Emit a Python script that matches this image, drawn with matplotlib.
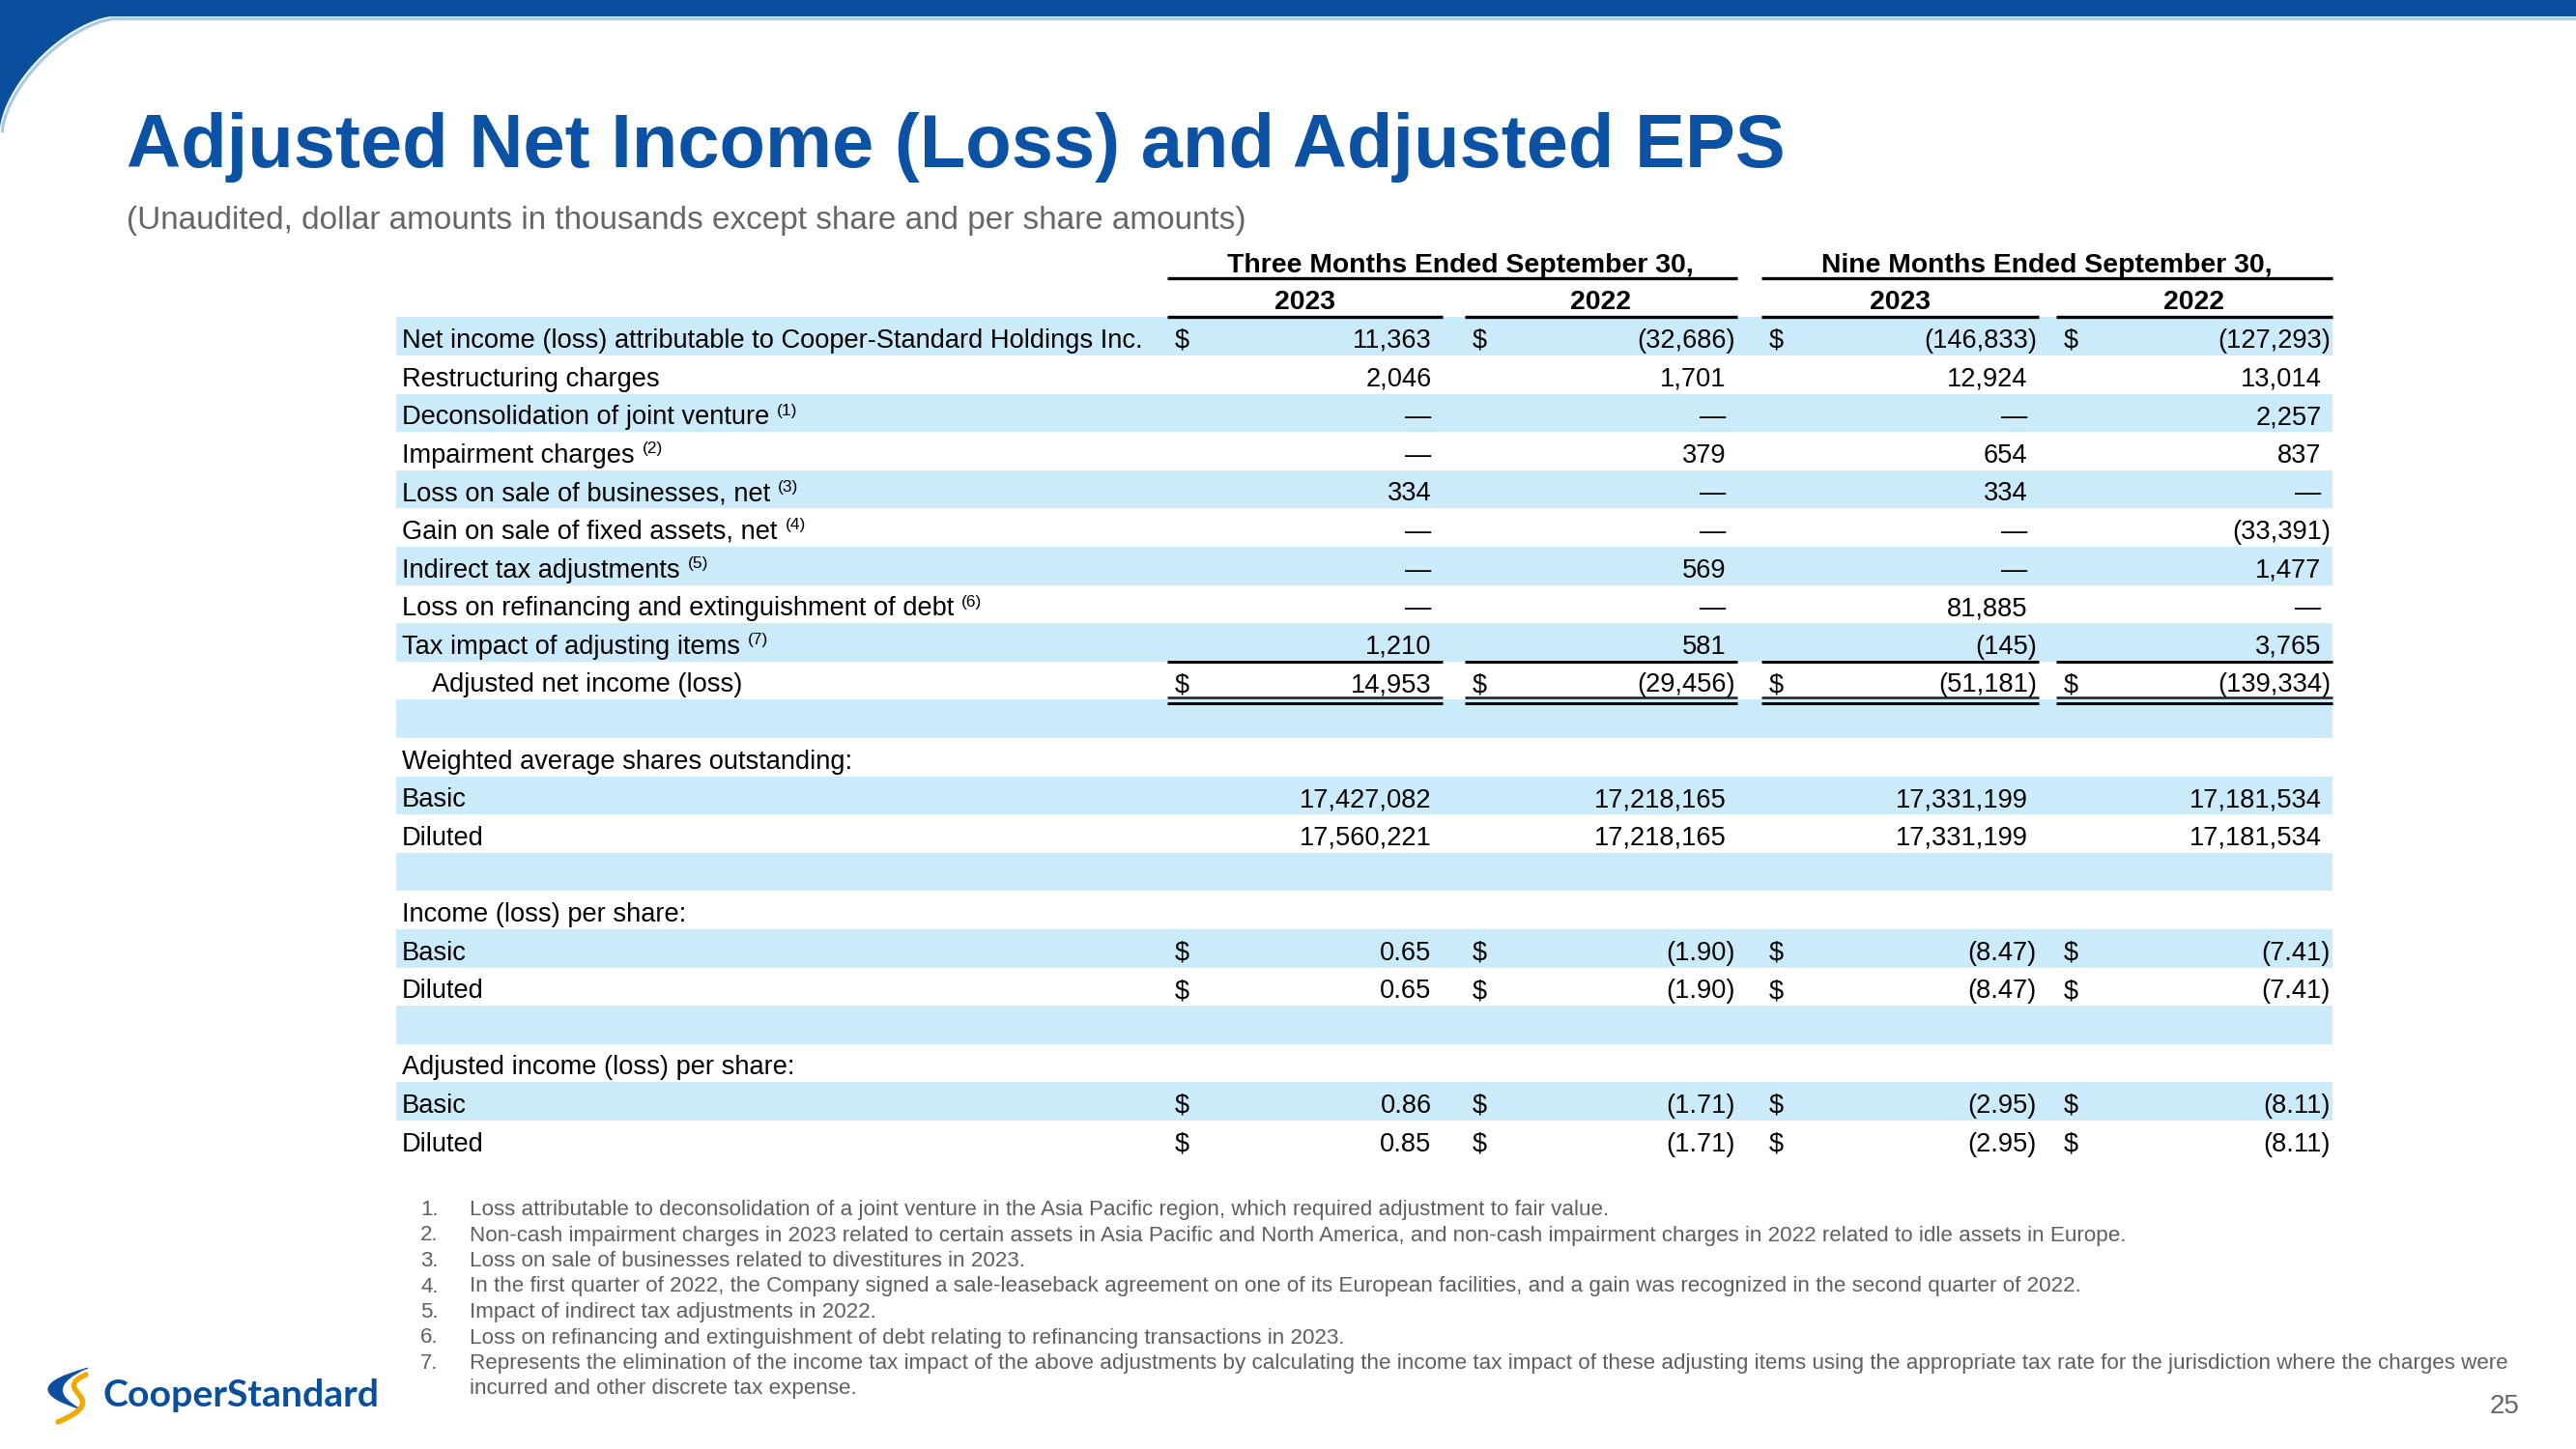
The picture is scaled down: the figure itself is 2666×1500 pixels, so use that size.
import matplotlib
matplotlib.use("Agg")
import matplotlib.pyplot as plt
from matplotlib.patches import Polygon, Rectangle, PathPatch
from matplotlib.path import Path
import numpy as np

# ---------------- data ----------------
title = "Adjusted Net Income (Loss) and Adjusted EPS"
subtitle = "(Unaudited, dollar amounts in thousands except share and per share amounts)"
group_headers = ["Three Months Ended September 30,", "Nine Months Ended September 30,"]
year_headers = ["2023", "2022", "2023", "2022"]

row_labels = [
    "Net income (loss) attributable to Cooper-Standard Holdings Inc.",
    "Restructuring charges",
    "Deconsolidation of joint venture",
    "Impairment charges",
    "Loss on sale of businesses, net",
    "Gain on sale of fixed assets, net",
    "Indirect tax adjustments",
    "Loss on refinancing and extinguishment of debt",
    "Tax impact of adjusting items",
    "Adjusted net income (loss)",
    "",
    "Weighted average shares outstanding:",
    "Basic",
    "Diluted",
    "",
    "Income (loss) per share:",
    "Basic",
    "Diluted",
    "",
    "Adjusted income (loss) per share:",
    "Basic",
    "Diluted",
]
row_notes = [None, None, 1, 2, 3, 4, 5, 6, 7] + [None] * 13

# adjustments block (thousands); None = dash
three_2023 = [11363, 2046, None, None, 334, None, None, None, 1210, 14953]
three_2022 = [-32686, 1701, None, 379, None, None, 569, None, 581, -29456]
nine_2023 = [-146833, 12924, None, 654, 334, None, None, 81885, -145, -51181]
nine_2022 = [-127293, 13014, 2257, 837, None, -33391, 1477, None, 3765, -139334]

shares_basic = [17427082, 17218165, 17331199, 17181534]
shares_diluted = [17560221, 17218165, 17331199, 17181534]
eps_basic = [0.65, -1.90, -8.47, -7.41]
eps_diluted = [0.65, -1.90, -8.47, -7.41]
adj_eps_basic = [0.86, -1.71, -2.95, -8.11]
adj_eps_diluted = [0.85, -1.71, -2.95, -8.11]

footnotes = [
    "Loss attributable to deconsolidation of a joint venture in the Asia Pacific region, which required adjustment to fair value.",
    "Non-cash impairment charges in 2023 related to certain assets in Asia Pacific and North America, and non-cash impairment charges in 2022 related to idle assets in Europe.",
    "Loss on sale of businesses related to divestitures in 2023.",
    "In the first quarter of 2022, the Company signed a sale-leaseback agreement on one of its European facilities, and a gain was recognized in the second quarter of 2022.",
    "Impact of indirect tax adjustments in 2022.",
    "Loss on refinancing and extinguishment of debt relating to refinancing transactions in 2023.",
    "Represents the elimination of the income tax impact of the above adjustments by calculating the income tax impact of these adjusting items using the appropriate tax rate for the jurisdiction where the charges were\nincurred and other discrete tax expense.",
]
page_number = "25"
logo_text = "CooperStandard"

# ---------------- styles ----------------
W, H = 2666, 1500
BLUE = "#0A4F9E"
TITLE_BLUE = "#0B52A5"
SHADE = "#CCEBFA"
GRAY = "#5F5F5F"
FONT = "Liberation Sans"

fig = plt.figure(figsize=(W / 100, H / 100), dpi=100)
ax = fig.add_axes([0, 0, 1, 1])
ax.set_xlim(0, W)
ax.set_ylim(H, 0)
ax.axis("off")
renderer = fig.canvas.get_renderer()
PT = 0.72  # points per pixel at dpi 100


def fit_size(text, target_w, weight="normal", family=FONT, base=20.0):
    t = ax.text(0, 0, text, fontsize=base, fontweight=weight, family=family)
    w = t.get_window_extent(renderer).width
    t.remove()
    return base * target_w / w


# ---------------- slide decoration ----------------
band_h = 17
ax.add_patch(Rectangle((0, 0), W, band_h, color=BLUE, lw=0, zorder=3))
cx, cy, rx, ry, n = 116, 133, 116, 116, 1.55
th = np.linspace(0, 1, 120)
ux = np.abs(np.cos(th * np.pi / 2)) ** (2 / n)
uy = np.abs(np.sin(th * np.pi / 2)) ** (2 / n)
arc = np.column_stack([cx - rx * ux, cy - ry * uy])
ax.add_patch(Polygon(np.vstack([[[0, 0]], arc, [[cx, 0]]]), closed=True, color=BLUE, lw=0, zorder=3))
ax.plot(arc[:, 0] + 2.5, arc[:, 1] + 2.5, color="#A8C8EA", lw=3 * PT, zorder=2)
ax.plot([cx, W], [band_h + 2, band_h + 2], color="#A8C8EA", lw=3 * PT, zorder=2)

# title & subtitle
ax.text(131, 173, title, fontsize=56, fontweight="bold", family=FONT, color=TITLE_BLUE, va="baseline")
sub_fs = fit_size(subtitle, 1156)
ax.text(131, 237, subtitle, fontsize=sub_fs, family=FONT, color="#666666", va="baseline")

# ---------------- table ----------------
BODY = 19.6
HEAD = 20.4
row_top0, pitch = 328.4, 39.6
label_x, band_x0, band_x1 = 416, 410, 2414
col_left = [1208, 1516, 1823, 2128]
col_right = [1493, 1798, 2110, 2414]
group_shift = [8, 0]
n_rows = len(row_labels)

for k in range(n_rows):
    top = row_top0 + pitch * k
    if k % 2 == 0:
        ax.add_patch(Rectangle((band_x0, top), band_x1 - band_x0, pitch, color=SHADE, lw=0, zorder=1))

# headers
for g, txt in enumerate(group_headers):
    l, r = col_left[2 * g], col_right[2 * g + 1]
    ax.text((l + r) / 2 + group_shift[g], 281.5, txt, fontsize=HEAD, fontweight="bold", family=FONT,
            ha="center", va="baseline")
    ax.plot([l, r], [287.5, 287.5], color="black", lw=3.3 * PT, solid_capstyle="butt")
for c, txt in enumerate(year_headers):
    l, r = col_left[c], col_right[c]
    ax.text((l + r) / 2, 320, txt, fontsize=HEAD, fontweight="bold", family=FONT, ha="center", va="baseline")
    ax.plot([l, r], [327.5, 327.5], color="black", lw=3.3 * PT, solid_capstyle="butt")


def fmt_int(v):
    if v is None:
        return "\u2014"
    return f"({abs(v):,})" if v < 0 else f"{v:,}"


def fmt_eps(v):
    return f"({abs(v):.2f})" if v < 0 else f"{v:.2f}"


adj_cols = [three_2023, three_2022, nine_2023, nine_2022]
cells = {}
for k in range(10):
    cells[k] = [fmt_int(col[k]) for col in adj_cols]
cells[12] = [fmt_int(v) for v in shares_basic]
cells[13] = [fmt_int(v) for v in shares_diluted]
cells[16] = [fmt_eps(v) for v in eps_basic]
cells[17] = [fmt_eps(v) for v in eps_diluted]
cells[20] = [fmt_eps(v) for v in adj_eps_basic]
cells[21] = [fmt_eps(v) for v in adj_eps_diluted]
dollar_rows = {0, 9, 16, 17, 20, 21}

for k, lab in enumerate(row_labels):
    top = row_top0 + pitch * k
    base = top + 31.5
    if lab:
        x = label_x + (31 if k == 9 else 0)
        t = ax.text(x, base, lab, fontsize=BODY, family=FONT, va="baseline", zorder=4)
        if row_notes[k] is not None:
            bb = t.get_window_extent(renderer)
            ax.text(bb.x1 + 8, base - 9.5, f"({row_notes[k]})", fontsize=12.5, family=FONT,
                    va="baseline", zorder=4)
    if k in cells:
        for c, s in enumerate(cells[k]):
            xr = col_right[c] - (2 if s.endswith(")") else 11.5)
            ax.text(xr, base, s, fontsize=BODY, family=FONT, ha="right", va="baseline", zorder=4)
            if k in dollar_rows:
                ax.text(col_left[c] + 8, base, "$", fontsize=BODY, family=FONT, va="baseline", zorder=4)

# total lines
tax_bottom = row_top0 + pitch * 9
adj_bottom = row_top0 + pitch * 10
for c in range(4):
    l, r = col_left[c], col_right[c]
    ax.plot([l, r], [tax_bottom, tax_bottom], color="black", lw=3.0 * PT, solid_capstyle="butt", zorder=5)
    ax.plot([l, r], [adj_bottom - 2.5, adj_bottom - 2.5], color="#222222", lw=2.6 * PT, solid_capstyle="butt", zorder=5)
    ax.plot([l, r], [adj_bottom + 3.5, adj_bottom + 3.5], color="black", lw=3.0 * PT, solid_capstyle="butt", zorder=5)

# ---------------- footnotes ----------------
fn_first_line = footnotes[-1].split("\n")[0]
fn_fs = fit_size(fn_first_line, 2097)
fn_base0, fn_pitch = 1258, 26.5
line = 0
for i, fn in enumerate(footnotes):
    ax.text(435, fn_base0 + fn_pitch * line, f"{i + 1}.", fontsize=fn_fs, family=FONT, color=GRAY, va="baseline")
    parts = fn.split("\n")
    for j, part in enumerate(parts):
        ax.text(486, fn_base0 + fn_pitch * (line + j), part, fontsize=fn_fs, family=FONT, color=GRAY, va="baseline")
    line += len(parts)

ax.text(2607, 1463, page_number, fontsize=20, family=FONT, color="#666666", ha="right", va="baseline")

# ---------------- logo ----------------
logo_fs = fit_size(logo_text, 287, weight="bold", family="Lato")
ax.text(107, 1456, logo_text, fontsize=logo_fs, fontweight="bold", family="Lato", color=BLUE, va="baseline")
crescent = Path([(91, 1416), (12, 1437), (84, 1459), (42, 1437), (91, 1416)],
                [Path.MOVETO, Path.CURVE3, Path.CURVE3, Path.CURVE3, Path.CURVE3])
ax.add_patch(PathPatch(crescent, facecolor=BLUE, edgecolor=BLUE, lw=0.5))
swoosh = Path([(89, 1423), (50, 1440), (120, 1447), (60, 1472)],
              [Path.MOVETO, Path.CURVE4, Path.CURVE4, Path.CURVE4])
ax.add_patch(PathPatch(swoosh, facecolor="none", edgecolor="#F2A900", lw=5.5 * PT, capstyle="round"))

fig.savefig("out.png", dpi=100, facecolor="white")
